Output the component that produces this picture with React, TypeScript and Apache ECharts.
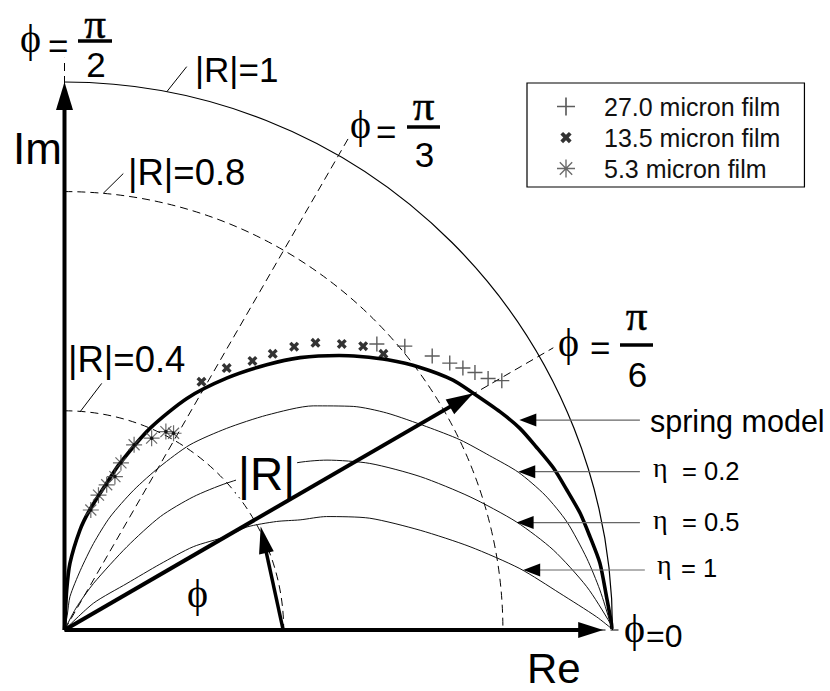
import React, { useEffect, useRef } from 'react';
import * as echarts from 'echarts';

const SANS = '"Liberation Sans", Arial, Helvetica, sans-serif';
const SERIF = '"Liberation Serif", "DejaVu Serif", "Times New Roman", serif';
const PHI = '\u03D5';
const ETA = '\u03B7';

// Complex reflection coefficient, points given as [Re R, Im R]
const springModel: number[][] = [
  [0, 0], [0.001, 0.018], [0.004, 0.073], [0.010, 0.122], [0.028, 0.182], [0.046, 0.219],
  [0.077, 0.268], [0.101, 0.304], [0.156, 0.368], [0.224, 0.423], [0.297, 0.460],
  [0.369, 0.484], [0.430, 0.497], [0.501, 0.501], [0.539, 0.499], [0.590, 0.493],
  [0.649, 0.479], [0.709, 0.456], [0.746, 0.432], [0.795, 0.398], [0.831, 0.368],
  [0.861, 0.334], [0.892, 0.296], [0.917, 0.255], [0.941, 0.213], [0.959, 0.170],
  [0.977, 0.122], [0.989, 0.061], [0.998, 0.012], [0.999, 0.002],
];
const eta02: number[][] = [
  [0, 0], [0.005, 0.027], [0.010, 0.061], [0.029, 0.109], [0.053, 0.158], [0.083, 0.206],
  [0.126, 0.255], [0.174, 0.298], [0.229, 0.338], [0.296, 0.368], [0.369, 0.392],
  [0.454, 0.409], [0.527, 0.408], [0.588, 0.396], [0.661, 0.371], [0.722, 0.347],
  [0.776, 0.318], [0.828, 0.288], [0.877, 0.246], [0.917, 0.197], [0.953, 0.131],
  [0.977, 0.073], [0.996, 0.013], [0.999, 0.002],
];
const eta05: number[][] = [
  [0, 0], [0.021, 0.040], [0.053, 0.085], [0.114, 0.152], [0.175, 0.207], [0.235, 0.243],
  [0.296, 0.268], [0.418, 0.304], [0.479, 0.310], [0.557, 0.304], [0.649, 0.280],
  [0.740, 0.243], [0.825, 0.197], [0.892, 0.146], [0.953, 0.079], [0.996, 0.012], [0.999, 0.002],
];
const eta1: number[][] = [
  [0, 0], [0.053, 0.049], [0.114, 0.085], [0.174, 0.120], [0.235, 0.152], [0.296, 0.171],
  [0.333, 0.188], [0.387, 0.198], [0.430, 0.201], [0.478, 0.207], [0.557, 0.204], [0.649, 0.182],
  [0.740, 0.152], [0.831, 0.112], [0.904, 0.067], [0.971, 0.024], [0.999, 0.002],
];

// Measured films
const film270: number[][] = [
  [0.570, 0.522], [0.621, 0.518], [0.671, 0.500], [0.703, 0.487],
  [0.727, 0.478], [0.749, 0.470], [0.773, 0.459], [0.798, 0.455],
];
const film135: number[][] = [
  [0.250, 0.453], [0.296, 0.478], [0.343, 0.491], [0.380, 0.504], [0.419, 0.517],
  [0.458, 0.524], [0.506, 0.522], [0.545, 0.518], [0.582, 0.504],
];
const film53: number[][] = [
  [0.048, 0.219], [0.062, 0.246], [0.077, 0.265], [0.092, 0.280], [0.103, 0.305],
  [0.127, 0.338], [0.159, 0.350], [0.185, 0.362], [0.199, 0.359],
];

// Constant-|R| circles and constant-phase rays (degrees, outer reach)
const ringRadii = [1, 0.8, 0.4];
const rayAngles = [0, 30, 60, 90];
const rayReach = [1.015, 1.03, 1.035, 1.044];

// Arrows as [x1, y1, x2, y2] in the Re/Im plane
const arrowSegments: number[][] = [
  [0, 0, 0, 1.0],
  [0, 0, 0.983, 0],
  [0, 0, 0.746, 0.432],
  [0.399, 0, 0.358, 0.189],
  [1.050, 0.383, 0.830, 0.383],
  [1.050, 0.289, 0.828, 0.289],
  [1.050, 0.196, 0.825, 0.196],
  [1.059, 0.1095, 0.837, 0.1095],
];
// Leader lines for the |R| circle labels
const leaderSegments: number[][] = [
  [0.1865, 0.982, 0.2230, 1.028],
  [0.0708, 0.797, 0.1073, 0.833],
  [0.0283, 0.398, 0.0679, 0.450],
];

const RING_STYLE = [
  { lineWidth: 1.2, lineDash: null as any },
  { lineWidth: 1, lineDash: [8, 5] },
  { lineWidth: 1, lineDash: [8, 5] },
];
const BOLD = { shaft: 4, len: 27, width: 17, line: '#000', head: '#000' };
const THIN = { shaft: 1.2, len: 17, width: 13, line: '#666', head: '#000' };
const ARROW_STYLE = [
  { ...BOLD, len: 28 },
  { ...BOLD, len: 25, width: 16 },
  BOLD,
  { ...BOLD, shaft: 3.5, len: 27, width: 15 },
  THIN, THIN, THIN, THIN,
];

const PLUS = 'path://M0,6.35H14V7.65H0Z M6.35,0H7.65V14H6.35Z';
const CROSS = 'path://M0,2.4L2.4,0L5,2.6L7.6,0L10,2.4L7.4,5L10,7.6L7.6,10L5,7.4L2.4,10L0,7.6L2.6,5Z';
const CROSS_ICON = 'path://M-3,-3L-3,-3 M13,13L13,13 M0,2.4L2.4,0L5,2.6L7.6,0L10,2.4L7.4,5L10,7.6L7.6,10L5,7.4L2.4,10L0,7.6L2.6,5Z';
const STAR = 'path://M0,7.4H16V8.6H0Z M7.4,0H8.6V16H7.4Z M2.92,2.08L13.92,13.08L13.08,13.92L2.08,2.92Z M13.08,2.08L13.92,2.92L2.92,13.92L2.08,13.08Z';

const FILM_NAMES = ['27.0 micron film', '13.5 micron film', '5.3 micron film'];

function text(t: string, x: number, y: number, size: number, family = SANS, extra: any = {}) {
  return {
    type: 'text', x, y, z: 60,
    style: { text: t, fontSize: size, fontFamily: family, fill: '#000', align: 'left', verticalAlign: 'middle', ...extra },
  };
}

// phase label: phi = pi / n, stacked fraction
function phaseLabel(phiX: number, phiY: number, eqX: number, eqY: number, barX1: number, barX2: number, barY: number, piBase: number, denom: string, denY: number) {
  const cx = (barX1 + barX2) / 2;
  return [
    text(PHI, phiX, phiY - 4, 40, SERIF),
    text('=', eqX, eqY, 35),
    { type: 'rect', z: 60, shape: { x: barX1, y: barY - 1.7, width: barX2 - barX1, height: 3.4 }, style: { fill: '#000' } },
    text('\u03C0', cx, piBase - 14.5, 43, SERIF, { align: 'center', stroke: '#000', lineWidth: 0.5 }),
    text(denom, cx + 1, denY, 35, SANS, { align: 'center' }),
  ];
}

export default function App() {
  const ref = useRef<HTMLDivElement>(null);
  useEffect(() => {
    if (!ref.current) return;
    const chart = echarts.init(ref.current, null, { renderer: 'svg' });

    const graphic: any[] = [
      text('Im', 13, 148, 44),
      text('Re', 527, 668.7, 42),
      text('|R|=1', 195, 69.5, 35),
      text('|R|=0.8', 128, 172.5, 36.5),
      text('|R|=0.4', 68, 359, 36.5),
      { ...text('|R|', 236, 474, 46, SANS, { backgroundColor: '#fff', padding: [0, 2, 0, 2] }), z: 5 },
      text(PHI, 187, 593, 40, SERIF),
      ...phaseLabel(20, 42.5, 48, 45.5, 78, 112, 41, 37.5, '2', 64.9),
      ...phaseLabel(350, 128.5, 376, 131.5, 407, 440, 127, 120, '3', 154.9),
      ...phaseLabel(558, 346, 590, 347, 620, 653, 345, 330, '6', 374.9),
      text(PHI, 624, 628.5, 40, SERIF),
      text('=0', 646, 635.6, 32),
      text('spring model', 650, 421.1, 30.5),
      text(ETA, 653, 467.5, 28, SERIF),
      text('= 0.2', 682, 470.5, 25.5),
      text(ETA, 653, 519.2, 28, SERIF),
      text('= 0.5', 682, 522.2, 25.5),
      text(ETA, 657, 564.9, 28, SERIF),
      text('= 1', 681, 567.9, 25.5),
    ];

    const option: any = {
      animation: false,
      backgroundColor: '#fff',
      grid: { left: 64.5, top: 5.28, width: 739.8, height: 624.72, containLabel: false },
      xAxis: { type: 'value', min: 0, max: 1.35, show: false },
      yAxis: { type: 'value', min: 0, max: 1.14, show: false },
      legend: {
        orient: 'vertical',
        left: 527,
        top: 83,
        padding: [11, 24, 6, 30],
        itemWidth: 50,
        itemHeight: 18,
        itemGap: 6,
        backgroundColor: '#fff',
        borderColor: '#000',
        borderWidth: 1.2,
        selectedMode: false,
        textStyle: { fontFamily: SANS, fontSize: 25, color: '#111', padding: [0, 0, 0, 8] },
        data: [
          { name: FILM_NAMES[0], icon: PLUS },
          { name: FILM_NAMES[1], icon: CROSS_ICON },
          { name: FILM_NAMES[2], icon: STAR },
        ],
      },
      graphic,
      series: [
        {
          name: 'rings',
          type: 'custom',
          z: 1,
          silent: true,
          data: ringRadii.map((r) => [r, 0]),
          renderItem: (params: any, api: any) => {
            const s = RING_STYLE[params.dataIndex];
            const c = api.coord([0, 0]);
            const r = api.size([api.value(0), 0])[0];
            return {
              type: 'arc',
              shape: { cx: c[0], cy: c[1], r, startAngle: -Math.PI / 2, endAngle: 0, clockwise: true },
              style: { stroke: '#000', fill: 'none', lineWidth: s.lineWidth, lineDash: s.lineDash },
            };
          },
        },
        {
          name: 'rays',
          type: 'custom',
          z: 1,
          silent: true,
          data: rayAngles.map((a, i) => [a, rayReach[i]]),
          renderItem: (params: any, api: any) => {
            const a = (api.value(0) * Math.PI) / 180;
            const len = api.value(1);
            const p1 = api.coord([0, 0]);
            const p2 = api.coord([len * Math.cos(a), len * Math.sin(a)]);
            return {
              type: 'line',
              shape: { x1: p1[0], y1: p1[1], x2: p2[0], y2: p2[1] },
              style: { stroke: '#000', lineWidth: 1, lineDash: [8, 5] },
            };
          },
        },
        {
          name: 'leaders',
          type: 'custom',
          z: 1,
          silent: true,
          data: leaderSegments,
          renderItem: (params: any, api: any) => {
            const p1 = api.coord([api.value(0), api.value(1)]);
            const p2 = api.coord([api.value(2), api.value(3)]);
            return {
              type: 'line',
              shape: { x1: p1[0], y1: p1[1], x2: p2[0], y2: p2[1] },
              style: { stroke: '#000', lineWidth: 1 },
            };
          },
        },
        {
          name: 'spring model', type: 'line', z: 3, data: springModel, showSymbol: false, smooth: 0.25,
          lineStyle: { color: '#000', width: 3.6 }, silent: true,
        },
        {
          name: 'eta 0.2', type: 'line', z: 3, data: eta02, showSymbol: false, smooth: 0.25,
          lineStyle: { color: '#111', width: 1 }, silent: true,
        },
        {
          name: 'eta 0.5', type: 'line', z: 3, data: eta05, showSymbol: false, smooth: 0.25,
          lineStyle: { color: '#111', width: 1 }, silent: true,
        },
        {
          name: 'eta 1', type: 'line', z: 3, data: eta1, showSymbol: false, smooth: 0.25,
          lineStyle: { color: '#111', width: 1 }, silent: true,
        },
        {
          name: FILM_NAMES[0], type: 'scatter', z: 4, data: film270, symbol: PLUS, symbolSize: 15,
          itemStyle: { color: '#333' }, silent: true,
        },
        {
          name: FILM_NAMES[1], type: 'scatter', z: 4, data: film135, symbol: CROSS, symbolSize: 10,
          itemStyle: { color: '#000' }, silent: true,
        },
        {
          name: FILM_NAMES[2], type: 'scatter', z: 4, data: film53, symbol: STAR, symbolSize: 16,
          itemStyle: { color: '#444' }, silent: true,
        },
        {
          // dark hub of each 5.3 micron asterisk
          name: 'film53 hub', type: 'scatter', z: 5, data: film53, symbol: 'circle', symbolSize: 3.5,
          itemStyle: { color: '#000' }, silent: true,
        },
        {
          name: 'arrows',
          type: 'custom',
          z: 10,
          silent: true,
          data: arrowSegments,
          renderItem: (params: any, api: any) => {
            const s = ARROW_STYLE[params.dataIndex];
            const p1 = api.coord([api.value(0), api.value(1)]);
            const p2 = api.coord([api.value(2), api.value(3)]);
            const dx = p2[0] - p1[0];
            const dy = p2[1] - p1[1];
            const L = Math.hypot(dx, dy);
            const ux = dx / L;
            const uy = dy / L;
            const bx = p2[0] - ux * s.len;
            const by = p2[1] - uy * s.len;
            const nx = (-uy * s.width) / 2;
            const ny = (ux * s.width) / 2;
            return {
              type: 'group',
              children: [
                {
                  type: 'line',
                  shape: { x1: p1[0], y1: p1[1], x2: p2[0] - ux * s.len * 0.6, y2: p2[1] - uy * s.len * 0.6 },
                  style: { stroke: s.line, lineWidth: s.shaft },
                },
                {
                  type: 'polygon',
                  shape: { points: [[p2[0], p2[1]], [bx + nx, by + ny], [bx - nx, by - ny]] },
                  style: { fill: s.head },
                },
              ],
            };
          },
        },
      ],
    };
    chart.setOption(option);
    return () => chart.dispose();
  }, []);
  return <div ref={ref} style={{ position: 'absolute', left: 0, top: 0, width: 830, height: 691 }} />;
}
